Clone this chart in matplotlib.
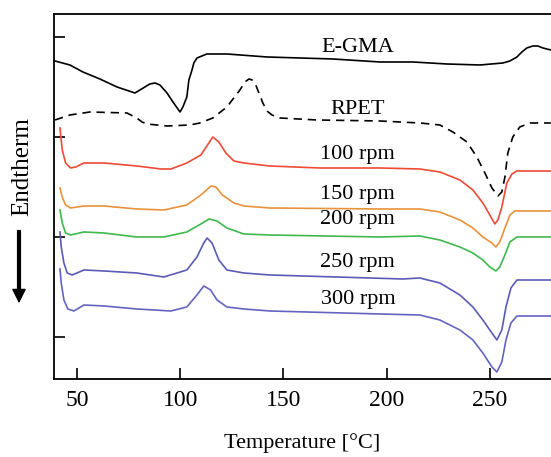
import numpy as np
import matplotlib
matplotlib.use("Agg")
import matplotlib.pyplot as plt

plt.rcParams['font.family'] = ['Liberation Serif', 'DejaVu Serif']

# temperatures (C) and heat flow (a.u.)
egma_t = [39.4, 46.6, 52.9, 61.1, 69.4, 78.1, 82.9, 85.3, 87.8, 90.2, 93.6, 96.5, 99.9,
          101.3, 103.2, 104.2, 105.7, 106.6, 108.1, 110.5, 112.9, 122.6, 142.0, 157.9,
          173.9, 196.7, 212.6, 229.1, 245.1, 256.2, 259.6, 263.0, 265.4, 267.8, 270.7,
          273.1, 275.6, 279.4]
egma_h = [2.76, 2.72, 2.65, 2.58, 2.50, 2.44, 2.50, 2.53, 2.54, 2.52, 2.44, 2.35, 2.25,
          2.30, 2.40, 2.57, 2.67, 2.74, 2.79, 2.81, 2.83, 2.83, 2.80, 2.79,
          2.78, 2.75, 2.75, 2.73, 2.72, 2.74, 2.76, 2.80, 2.85, 2.89, 2.91,
          2.91, 2.89, 2.87]

rpet_t = [39.4, 46.6, 56.3, 74.2, 79.0, 81.5, 83.9, 93.6, 104.7, 109.5, 115.8, 122.6,
          128.9, 131.3, 133.3, 134.8, 136.2, 138.1, 140.0, 142.0, 144.4, 148.3, 166.2,
          196.7, 216.0, 225.7, 232.0, 238.8, 243.6, 247.5, 250.9, 253.8, 255.7, 257.2,
          258.6, 261.0, 264.4, 269.3, 279.4]
rpet_h = [2.17, 2.22, 2.25, 2.24, 2.19, 2.15, 2.13, 2.11, 2.12, 2.14, 2.19, 2.30,
          2.47, 2.55, 2.58, 2.57, 2.54, 2.44, 2.34, 2.26, 2.22, 2.19, 2.17,
          2.16, 2.14, 2.12, 2.05, 1.95, 1.80, 1.64, 1.49, 1.41, 1.45, 1.60,
          1.84, 2.00, 2.10, 2.14, 2.14]

r100_t = [41.8, 42.9, 44.5, 46.9, 49.4, 53.4, 63.1, 79.0, 90.7, 95.5, 103.2, 110.0,
          112.9, 115.8, 118.7, 122.1, 126.0, 130.8, 143.4, 167.6, 196.7, 216.0, 225.7,
          235.4, 241.7, 246.5, 249.9, 252.3, 253.8, 255.7, 258.1, 260.6, 263.0, 279.4]
r100_h = [2.09, 1.87, 1.74, 1.69, 1.70, 1.74, 1.74, 1.71, 1.68, 1.68, 1.74, 1.82,
          1.91, 2.00, 1.95, 1.84, 1.76, 1.74, 1.71, 1.69, 1.69, 1.68, 1.65,
          1.57, 1.47, 1.34, 1.22, 1.13, 1.17, 1.30, 1.54, 1.63, 1.66, 1.66]

r150_t = [41.8, 42.9, 44.5, 46.9, 53.4, 63.1, 79.0, 92.1, 103.2, 110.0, 114.9, 117.3,
          120.4, 126.0, 130.8, 143.4, 196.7, 216.0, 225.7, 235.4, 241.7, 246.5, 250.9,
          252.8, 254.7, 257.2, 259.6, 262.0, 279.4]
r150_h = [1.49, 1.40, 1.32, 1.29, 1.31, 1.31, 1.28, 1.27, 1.32, 1.42, 1.51, 1.50,
          1.42, 1.34, 1.31, 1.29, 1.28, 1.28, 1.25, 1.17, 1.09, 1.00, 0.94,
          0.90, 0.95, 1.09, 1.22, 1.26, 1.26]

r200_t = [41.8, 42.9, 44.5, 46.9, 53.4, 63.1, 79.0, 92.1, 103.2, 110.0, 114.0, 117.8,
          122.6, 130.8, 143.4, 196.7, 216.0, 225.7, 235.4, 241.7, 246.5, 249.9, 252.8,
          254.7, 257.2, 259.6, 263.0, 279.4]
r200_h = [1.27, 1.14, 1.04, 1.02, 1.05, 1.04, 1.00, 1.00, 1.05, 1.13, 1.18, 1.16,
          1.09, 1.03, 1.02, 1.00, 1.01, 0.97, 0.90, 0.84, 0.77, 0.70, 0.66,
          0.70, 0.82, 0.95, 1.00, 1.00]

r250_t = [41.8, 42.4, 43.7, 45.3, 47.7, 53.4, 63.1, 79.0, 92.1, 103.2, 108.1, 111.4,
          113.0, 115.4, 118.7, 122.6, 130.8, 143.4, 207.8, 216.0, 225.7, 235.4, 241.7,
          246.5, 250.9, 253.3, 255.7, 257.7, 260.1, 263.0, 279.4]
r250_h = [1.05, 0.90, 0.74, 0.64, 0.62, 0.67, 0.66, 0.64, 0.60, 0.67, 0.80, 0.94,
          0.99, 0.94, 0.77, 0.67, 0.64, 0.62, 0.58, 0.59, 0.54, 0.42, 0.30,
          0.17, 0.04, -0.03, 0.07, 0.30, 0.49, 0.57, 0.57]

r300_t = [41.8, 42.4, 43.7, 45.6, 48.5, 53.4, 63.1, 79.0, 95.5, 103.2, 108.1, 111.4,
          114.7, 117.8, 122.6, 130.8, 143.4, 196.7, 216.0, 225.7, 235.4, 241.7, 246.5,
          250.9, 253.3, 255.7, 257.7, 260.1, 263.0, 279.4]
r300_h = [0.68, 0.54, 0.37, 0.28, 0.26, 0.32, 0.31, 0.28, 0.26, 0.30, 0.42, 0.51,
          0.47, 0.37, 0.30, 0.28, 0.26, 0.23, 0.22, 0.17, 0.07, -0.03, -0.16,
          -0.30, -0.35, -0.25, -0.03, 0.14, 0.21, 0.21]

labels = ['E-GMA', 'RPET', '100 rpm', '150 rpm', '200 rpm', '250 rpm', '300 rpm']
label_y = [2.89, 2.27, 1.82, 1.42, 1.17, 0.74, 0.37]

fig = plt.figure(figsize=(5.51, 4.57), dpi=100)
ax = fig.add_axes([0.098, 0.1707, 0.902, 0.7987])

lw = 1.2
ax.plot(egma_t, egma_h, color='black', lw=lw)
ax.plot(rpet_t, rpet_h, color='black', lw=lw, ls=(0, (5, 3.5)))
ax.plot(r100_t, r100_h, color='#ee4b37', lw=lw)
ax.plot(r150_t, r150_h, color='#e8923c', lw=lw)
ax.plot(r200_t, r200_h, color='#3fb84d', lw=lw)
ax.plot(r250_t, r250_h, color='#5b5bb5', lw=lw)
ax.plot(r300_t, r300_h, color='#6464c0', lw=lw)

for lab, y in zip(labels, label_y):
    ax.text(186, y, lab, ha='center', va='center', fontsize=16)

ax.set_xlim(38.9, 279.5)
ax.set_ylim(-0.42, 3.23)
ax.set_xticks([50, 100, 150, 200, 250])
ax.set_yticks([0, 1, 2, 3])
ax.set_yticklabels([])
ax.tick_params(direction='in', length=8, width=1.2, labelsize=17, pad=8)
ax.spines['right'].set_visible(False)
for s in ['top', 'left', 'bottom']:
    ax.spines[s].set_linewidth(1.3)

fig.text(0.5 + 0.049, 1 - 443 / 457, 'Temperature [\u00b0C]', ha='center', va='center', fontsize=16)
fig.text(22 / 551, 1 - 167 / 457, 'Endtherm', rotation=90, ha='center', va='center', fontsize=18)
fig.add_artist(plt.Line2D([19 / 551, 19 / 551], [1 - 232 / 457, 1 - 292 / 457], color='black', lw=3))
ax.annotate('', xy=(19 / 551, 1 - 306 / 457), xytext=(19 / 551, 1 - 285 / 457),
            xycoords='figure fraction', textcoords='figure fraction',
            arrowprops=dict(arrowstyle='-|>', color='black', lw=1, mutation_scale=22))

fig.savefig('out.png', dpi=100)
